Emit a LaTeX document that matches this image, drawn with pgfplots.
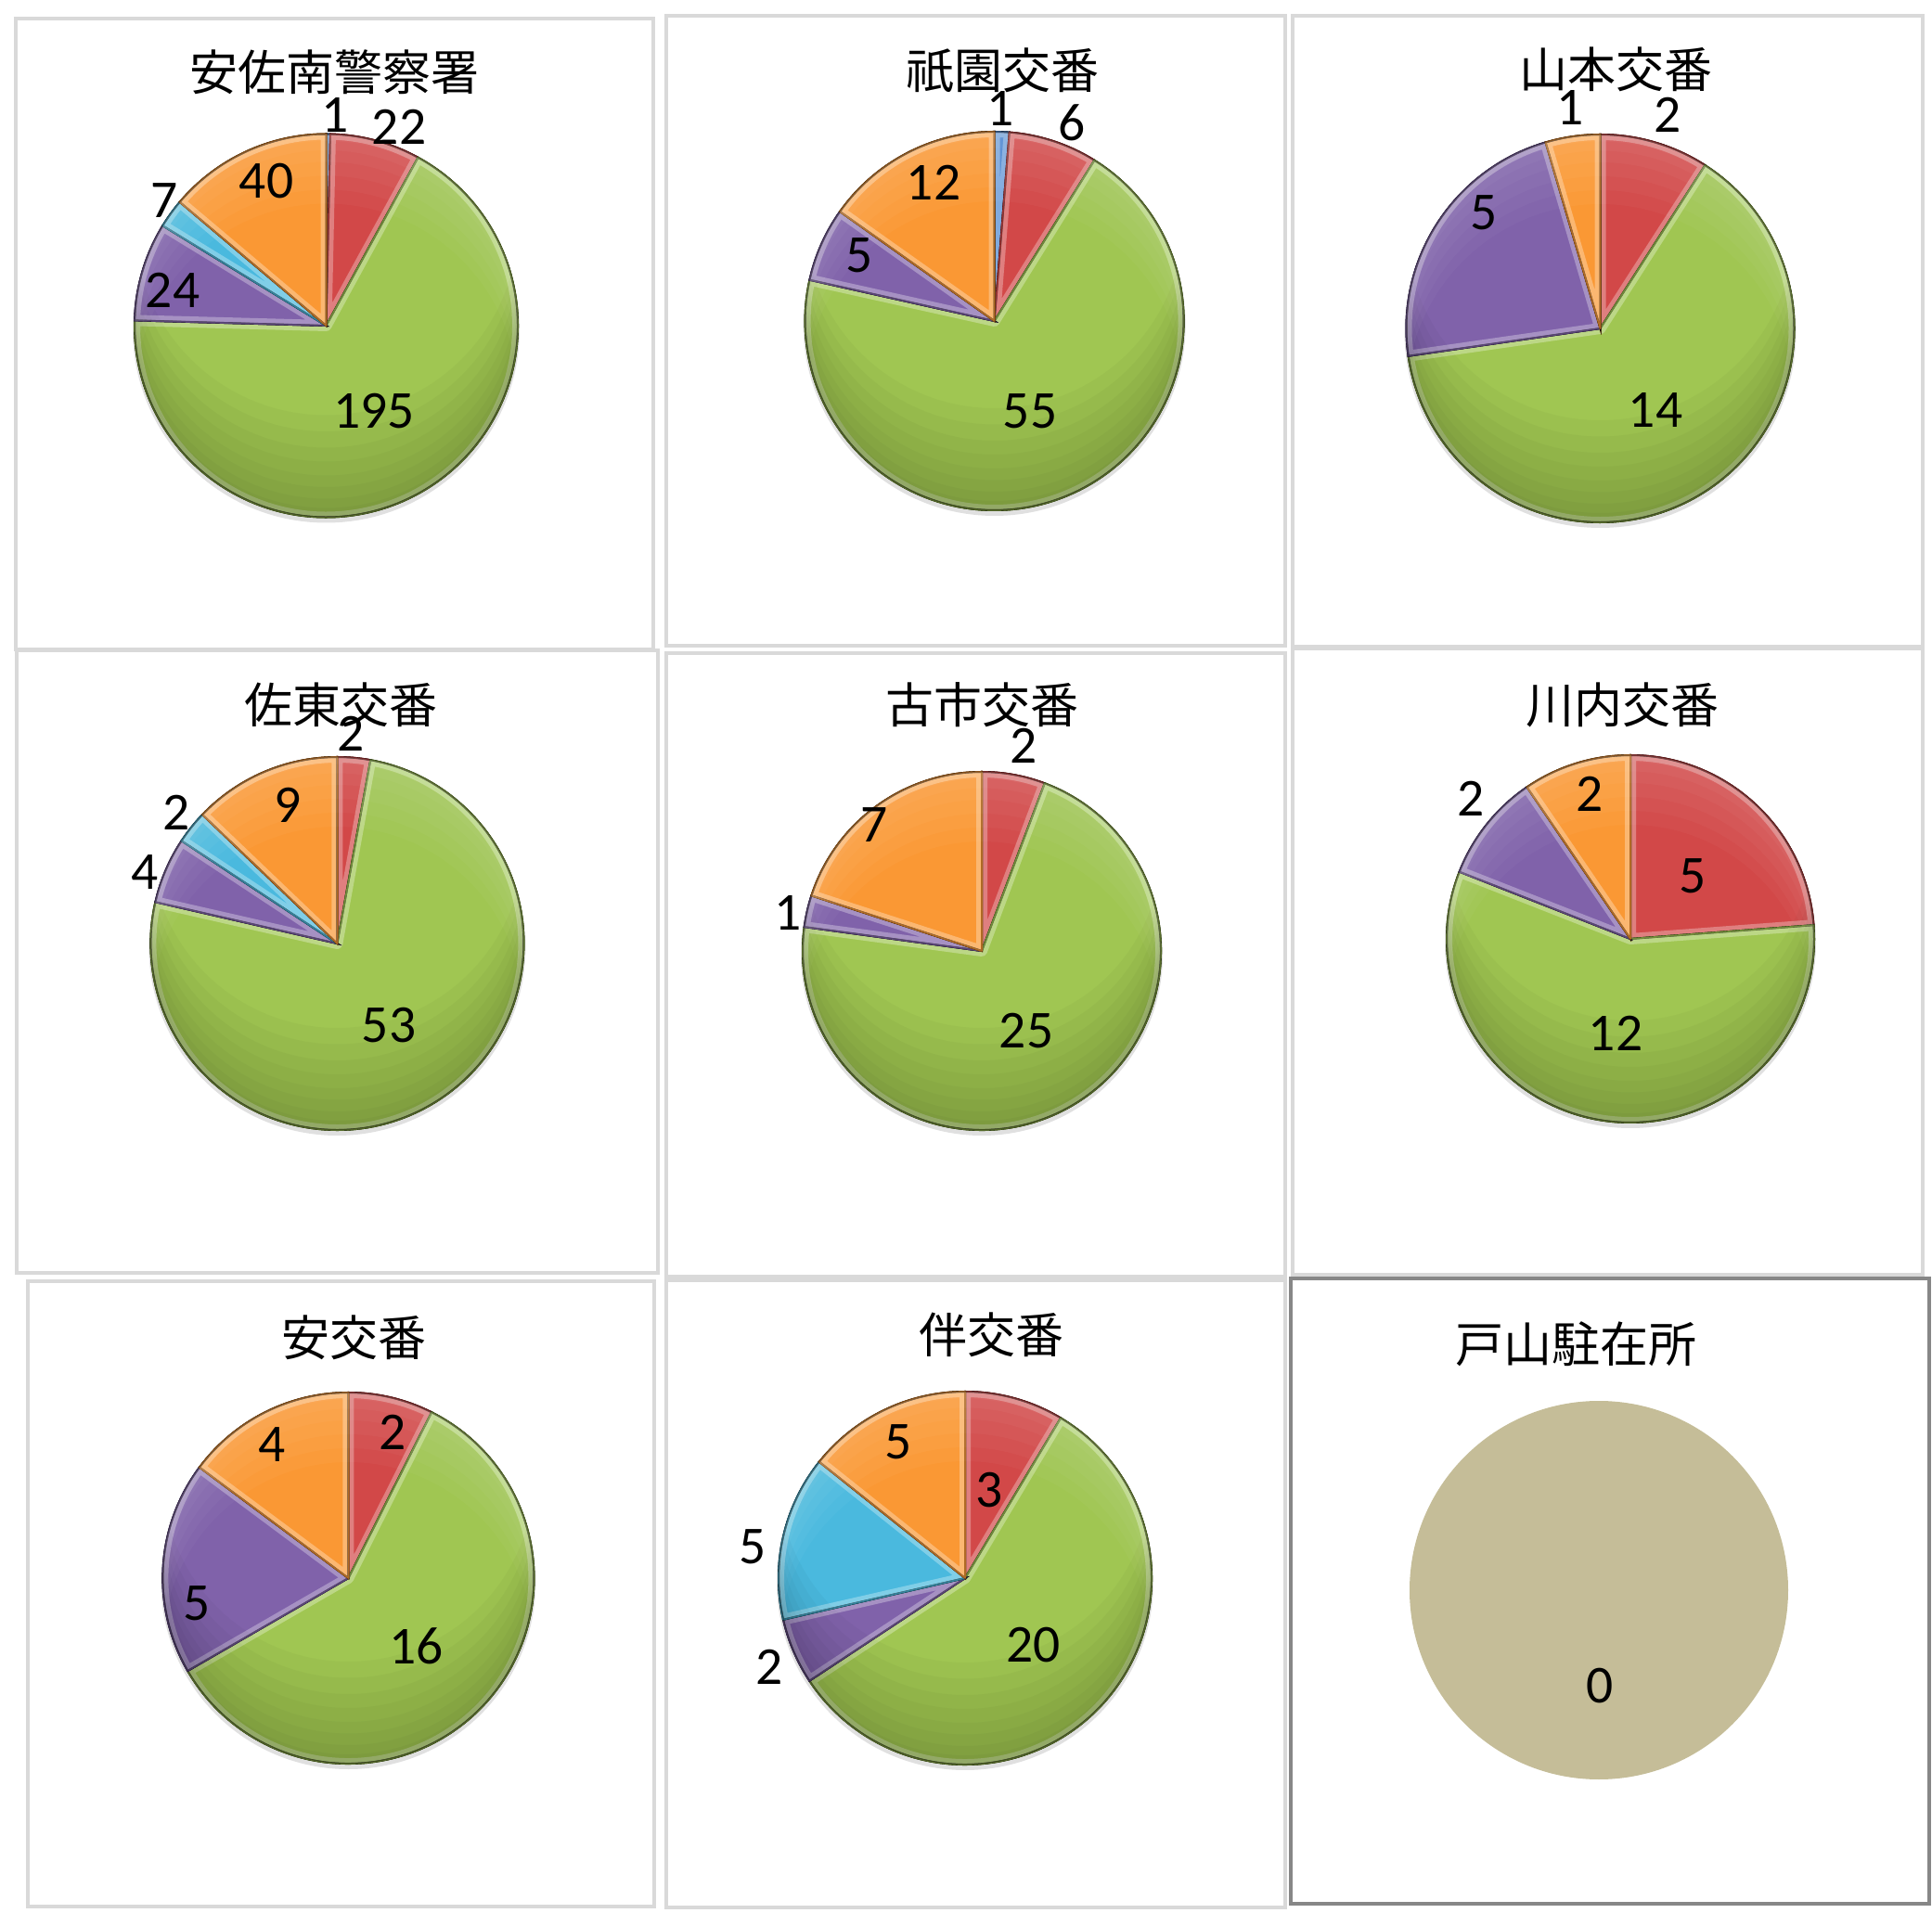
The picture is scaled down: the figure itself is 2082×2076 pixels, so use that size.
\documentclass[border=0pt]{standalone}
\usepackage{pgfplots}
\pgfplotsset{compat=1.18}
\usepackage{pgfplotstable}
\usepackage{fontspec}
\setmainfont{Carlito}
\newfontfamily\cjk{Noto Sans CJK JP}

\definecolor{pblue}{HTML}{4A86D0}
\definecolor{pred}{HTML}{D24848}
\definecolor{pgreen}{HTML}{A0C652}
\definecolor{ppurple}{HTML}{8062AA}
\definecolor{pcyan}{HTML}{4AB9DE}
\definecolor{porange}{HTML}{FA9834}
\definecolor{ptan}{HTML}{C5BD98}
\definecolor{frame}{HTML}{D9D9D9}
\definecolor{framedark}{HTML}{878787}

\pgfdeclareplotmark{nothing}{}

% slices in clockwise order from 12 o'clock (zero slices left out)
\pgfplotstableread{
n c
1 pblue
22 pred
195 pgreen
24 ppurple
7 pcyan
40 porange
}\tabA
\pgfplotstableread{
n c
1 pblue
6 pred
55 pgreen
5 ppurple
12 porange
}\tabB
\pgfplotstableread{
n c
2 pred
14 pgreen
5 ppurple
1 porange
}\tabC
\pgfplotstableread{
n c
2 pred
53 pgreen
4 ppurple
2 pcyan
9 porange
}\tabD
\pgfplotstableread{
n c
2 pred
25 pgreen
1 ppurple
7 porange
}\tabE
\pgfplotstableread{
n c
5 pred
12 pgreen
2 ppurple
2 porange
}\tabF
\pgfplotstableread{
n c
2 pred
16 pgreen
5 ppurple
4 porange
}\tabG
\pgfplotstableread{
n c
3 pred
20 pgreen
2 ppurple
5 pcyan
5 porange
}\tabH

\pgfplotsset{pieaxis/.style={hide axis, anchor=center, clip=false,
    xmin=-1, xmax=1, ymin=-1, ymax=1}}

% #1 centre, #2 radius (px), #3 table
\newcommand\pie[3]{%
  \pgfmathsetlengthmacro\pieR{#2*0.2pt}%
  \gdef\pietotal{0}%
  \pgfplotstableforeachcolumnelement{n}\of#3\as\v{%
    \pgfmathsetmacro\t{\pietotal+\v}\xdef\pietotal{\t}}%
  \gdef\pieacc{0}%
  \gdef\pierow{0}%
  \begin{axis}[pieaxis, at={(#1)}, x=\pieR, y=\pieR]
    \pgfplotsextra{%
      \fill[black, opacity=0.12] ([yshift=-0.8pt]axis cs:0,0) circle[radius=\pieR+0.4pt];
    }
    \addplot[scatter, only marks, mark=nothing, point meta=explicit symbolic,
      scatter/@pre marker code/.code={%
        \pgfplotstablegetelem{\pierow}{n}\of#3\let\val\pgfplotsretval
        \pgfplotstablegetelem{\pierow}{c}\of#3\let\col\pgfplotsretval
        \pgfmathsetmacro\aS{90-360*(\pieacc/\pietotal)}%
        \pgfmathsetmacro\aE{90-360*((\pieacc+\val)/\pietotal)}%
        \fill[\col] (0pt,0pt) -- (\aS:\pieR) arc[start angle=\aS, end angle=\aE, radius=\pieR] -- cycle;
        \begin{scope}
          \clip (0pt,0pt) -- (\aS:\pieR) arc[start angle=\aS, end angle=\aE, radius=\pieR] -- cycle;
          \draw[white, opacity=0.3, line width=2.4pt, line join=round]
            (0pt,0pt) -- (\aS:\pieR) arc[start angle=\aS, end angle=\aE, radius=\pieR] -- cycle;
        \end{scope}
        \draw[\col!70!black, line width=0.35pt, line join=round]
          (0pt,0pt) -- (\aS:\pieR) arc[start angle=\aS, end angle=\aE, radius=\pieR] -- cycle;
        \pgfmathsetmacro\t{\pieacc+\val}\xdef\pieacc{\t}%
        \pgfmathtruncatemacro\t{\pierow+1}\xdef\pierow{\t}%
      },
      scatter/@post marker code/.code={}]
      table[x expr=0, y expr=0, meta=c] {#3};
  \end{axis}%
  % shading over the finished pie (light at the top, dark towards the bottom)
  \begin{axis}[pieaxis, at={(#1)}, x=\pieR, y=\pieR]
    \pgfplotsextra{%
      \begin{scope}
        \clip (axis cs:0,0) circle[radius=\pieR];
        \foreach \d in {2pt,4pt,6.5pt,9pt,12pt,15pt,18.5pt,22pt}{%
          \fill[black, opacity=0.026, even odd rule] (axis cs:0,0) circle[radius=\pieR]
            ([yshift=\d]axis cs:0,0) circle[radius=\pieR];}
        \foreach \d in {1.5pt,3.5pt,6pt,9pt,12pt,15pt}{%
          \fill[white, opacity=0.03, even odd rule] (axis cs:0,0) circle[radius=\pieR]
            ([yshift=-\d]axis cs:0,0) circle[radius=\pieR];}
      \end{scope}
      \draw[black, opacity=0.22, line width=0.4pt] (axis cs:0,0) circle[radius=\pieR];
    }
  \end{axis}%
}

\begin{document}
\begin{tikzpicture}[x=0.2pt, y=-0.2pt,
    lab/.style={font=\fontsize{11.5pt}{13pt}\selectfont, inner sep=0pt},
    ttl/.style={font=\cjk\fontsize{10.4pt}{12pt}\selectfont, inner sep=0pt}]
\useasboundingbox (0,0) rectangle (2082,2076);

% panel frames
\begin{scope}[draw=frame, line width=0.8pt]
  \draw (17,20) rectangle (704,700);
  \draw (717.5,17) rectangle (1385,696.5);
  \draw (1393,17) rectangle (2072,697);
  \draw (18,701) rectangle (708.5,1372);
  \draw (718,704.5) rectangle (1385,1376);
  \draw (1393,699) rectangle (2072,1374);
  \draw (30,1381) rectangle (705,2055);
  \draw (718,1380) rectangle (1385,2056);
\end{scope}
\draw[framedark, line width=0.8pt] (1391,1378) rectangle (2079,2052);

\coordinate (c1) at (351.5,351);
\coordinate (c2) at (1071.6,346);
\coordinate (c3) at (1724.5,354);
\coordinate (c4) at (363.4,1017);
\coordinate (c5) at (1058,1025);
\coordinate (c6) at (1757,1012);
\coordinate (c7) at (375.4,1701);
\coordinate (c8) at (1040,1701);
\coordinate (c9) at (1723,1714);

\pie{c1}{206.5}{\tabA}
\pie{c2}{204}{\tabB}
\pie{c3}{209}{\tabC}
\pie{c4}{201}{\tabD}
\pie{c5}{193}{\tabE}
\pie{c6}{198}{\tabF}
\pie{c7}{200}{\tabG}
\pie{c8}{201}{\tabH}

\pgfmathsetlengthmacro\pieR{203*0.2pt}
\begin{axis}[pieaxis, at={(c9)}, x=\pieR, y=\pieR]
  \addplot[ptan, only marks, mark=*, mark size=\pieR]
    coordinates {(0,0)};
\end{axis}

% titles
\node[ttl] at (360.5,78) {安佐南警察署};
\node[ttl] at (1080,76) {祇園交番};
\node[ttl] at (1741,74.5) {山本交番};
\node[ttl] at (367,760) {佐東交番};
\node[ttl] at (1058,760) {古市交番};
\node[ttl] at (1748,760) {川内交番};
\node[ttl] at (381,1442) {安交番};
\node[ttl] at (1068,1439) {伴交番};
\node[ttl] at (1698,1449) {戸山駐在所};

% data labels
\node[lab] at (361,124.5) {1};
\node[lab] at (430,137) {22};
\node[lab] at (287,195.5) {40};
\node[lab] at (177,216) {7};
\node[lab] at (186,312.5) {24};
\node[lab] at (403,443) {195};

\node[lab] at (1078,117) {1};
\node[lab] at (1155.5,132) {6};
\node[lab] at (1006,197) {12};
\node[lab] at (926.5,275.5) {5};
\node[lab] at (1110,443) {55};

\node[lab] at (1692,116) {1};
\node[lab] at (1797,124) {2};
\node[lab] at (1599,229) {5};
\node[lab] at (1784,442) {14};

\node[lab] at (378,791) {2};
\node[lab] at (310,868) {9};
\node[lab] at (190,876) {2};
\node[lab] at (156,940) {4};
\node[lab] at (419,1105) {53};

\node[lab] at (1103.5,804) {2};
\node[lab] at (942.5,889) {7};
\node[lab] at (849,984) {1};
\node[lab] at (1106,1111.5) {25};

\node[lab] at (1585,861) {2};
\node[lab] at (1713,856) {2};
\node[lab] at (1824,944) {5};
\node[lab] at (1741,1114) {12};

\node[lab] at (423,1544) {2};
\node[lab] at (293,1557.5) {4};
\node[lab] at (211.7,1728) {5};
\node[lab] at (448.6,1774.5) {16};

\node[lab] at (968.5,1554.5) {5};
\node[lab] at (1066,1606.5) {3};
\node[lab] at (811.5,1667) {5};
\node[lab] at (829,1797) {2};
\node[lab] at (1113.5,1773) {20};

\node[lab] at (1724,1817) {0};
\end{tikzpicture}
\end{document}
